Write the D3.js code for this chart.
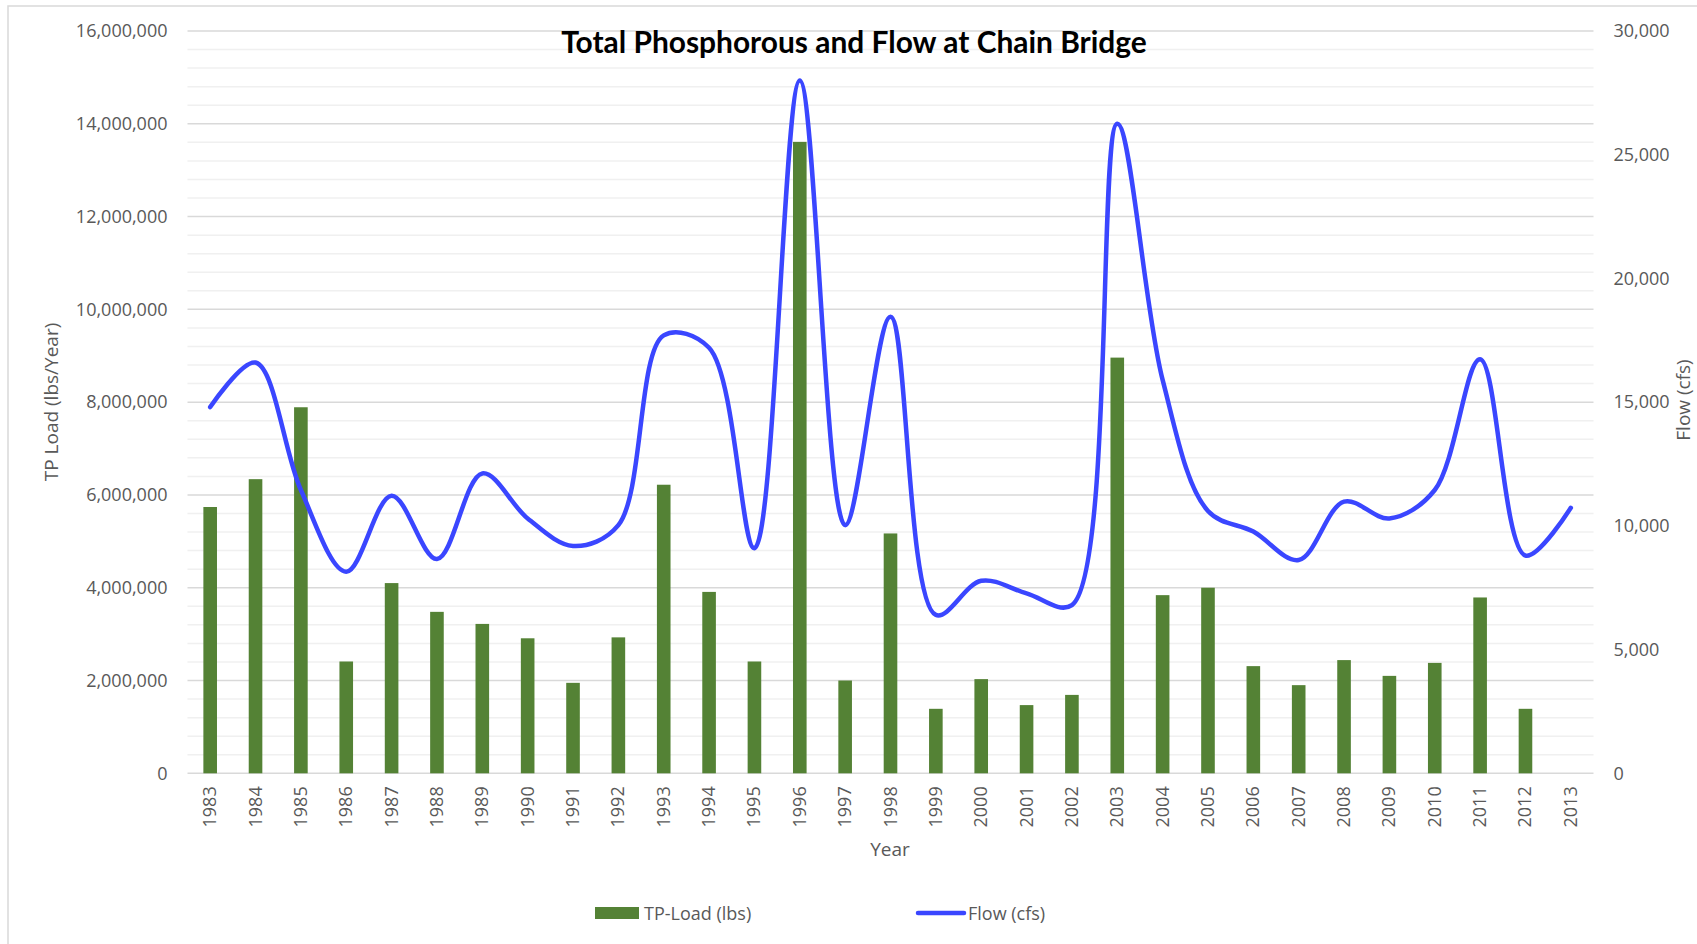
<!DOCTYPE html>
<html>
<head>
<meta charset="utf-8">
<script src="https://cdn.jsdelivr.net/npm/d3@7"></script>
<style>
  html, body { margin: 0; padding: 0; background: #fff; }
  svg { display: block; }
  text { font-family: "Open Sans", "Noto Sans", sans-serif; fill: #595959; }
</style>
</head>
<body>
<div id="chart"></div>
<script>
const years = ['1983','1984','1985','1986','1987','1988','1989','1990','1991','1992',
  '1993','1994','1995','1996','1997','1998','1999','2000','2001','2002',
  '2003','2004','2005','2006','2007','2008','2009','2010','2011','2012','2013'];

// TP load, lbs/year (2013 has no bar)
const tpLoad = [5740000, 6340000, 7890000, 2410000, 4100000, 3480000, 3220000, 2910000, 1950000, 2930000,
  6220000, 3910000, 2410000, 13610000, 2000000, 5170000, 1390000, 2030000, 1470000, 1690000,
  8960000, 3840000, 4000000, 2310000, 1900000, 2440000, 2100000, 2380000, 3790000, 1390000, null];

// flow, cfs
const flow = [14800, 16600, 11450, 8150, 11220, 8660, 12120, 10300, 9190, 10030,
  17700, 17200, 9100, 28000, 10030, 18450, 6400, 7780, 7270, 6800,
  26250, 15900, 10600, 9770, 8620, 10980, 10300, 11450, 16730, 8800, 10730];

const leftTicks = d3.range(0, 16000001, 2000000);
const leftMinor = d3.range(0, 16000001, 400000);
const rightTicks = d3.range(0, 30001, 5000);

const W = 1697, H = 944;
const margin = { left: 187.5, right: W - 1593.5, top: 31, bottom: H - 773.3 };
const plotW = W - margin.left - margin.right;
const plotH = H - margin.top - margin.bottom;

const svg = d3.select('#chart').append('svg').attr('width', W).attr('height', H);

// chart area border
svg.append('rect')
  .attr('x', 8).attr('y', 6).attr('width', 1720).attr('height', 1000)
  .attr('fill', '#fff').attr('stroke', '#d9d9d9').attr('stroke-width', 1.5);

const g = svg.append('g').attr('transform', `translate(${margin.left},${margin.top})`);

const x = d3.scaleBand().domain(years).range([0, plotW]).paddingInner(0.7).paddingOuter(0.35);
const yL = d3.scaleLinear().domain([0, 16000000]).range([plotH, 0]);
const yR = d3.scaleLinear().domain([0, 30000]).range([plotH, 0]);

// gridlines
g.append('g').selectAll('line').data(leftMinor.filter(v => v % 2000000 !== 0)).join('line')
  .attr('x1', 0).attr('x2', plotW)
  .attr('y1', d => yL(d)).attr('y2', d => yL(d))
  .attr('stroke', '#f0f0f0').attr('stroke-width', 1.5);
g.append('g').selectAll('line').data(leftTicks).join('line')
  .attr('x1', 0).attr('x2', plotW)
  .attr('y1', d => yL(d)).attr('y2', d => yL(d))
  .attr('stroke', '#d9d9d9').attr('stroke-width', 1.5);

// left axis
const fmt = d3.format(',');
const leftAxis = g.append('g').call(d3.axisLeft(yL).tickValues(leftTicks).tickFormat(fmt).tickSize(0).tickPadding(20));
leftAxis.select('.domain').remove();
leftAxis.selectAll('text').attr('font-size', 18).attr('fill', '#595959')
  .style('font-family', '"Open Sans", sans-serif');

// right axis
const rightAxis = g.append('g').attr('transform', `translate(${plotW},0)`)
  .call(d3.axisRight(yR).tickValues(rightTicks).tickFormat(fmt).tickSize(0).tickPadding(20));
rightAxis.select('.domain').remove();
rightAxis.selectAll('text').attr('font-size', 18).attr('fill', '#595959')
  .style('font-family', '"Open Sans", sans-serif');

// x axis
const bottomAxis = g.append('g').attr('transform', `translate(0,${plotH})`)
  .call(d3.axisBottom(x).tickSize(0).tickPadding(0));
bottomAxis.select('.domain').remove();
bottomAxis.selectAll('text')
  .attr('font-size', 18).attr('fill', '#595959')
  .style('font-family', '"Open Sans", sans-serif')
  .attr('text-anchor', 'end')
  .attr('dy', null)
  .attr('transform', 'translate(6,13) rotate(-90)');

// bars
g.append('g').selectAll('rect').data(years.map((y, i) => ({ y, v: tpLoad[i] })).filter(d => d.v != null)).join('rect')
  .attr('x', d => x(d.y))
  .attr('width', x.bandwidth())
  .attr('y', d => yL(d.v))
  .attr('height', d => plotH - yL(d.v))
  .attr('fill', '#548235');

// flow line (centripetal spline keeps the dips next to big jumps shallow, like Excel's smoothing)
const line = d3.line()
  .x((d, i) => x(years[i]) + x.bandwidth() / 2)
  .y(d => yR(d))
  .curve(d3.curveCatmullRom.alpha(0.5));
g.append('path').datum(flow)
  .attr('d', line)
  .attr('fill', 'none')
  .attr('stroke', '#3a46ff')
  .attr('stroke-width', 4.5)
  .attr('stroke-linecap', 'round')
  .attr('stroke-linejoin', 'round');

// axis titles
svg.append('text').attr('x', 890).attr('y', 856).attr('text-anchor', 'middle')
  .attr('font-size', 19).text('Year');
svg.append('text').attr('transform', 'translate(58,402) rotate(-90)').attr('text-anchor', 'middle')
  .attr('font-size', 19).text('TP Load (lbs/Year)');
svg.append('text').attr('transform', 'translate(1690,400) rotate(-90)').attr('text-anchor', 'middle')
  .attr('font-size', 19).text('Flow (cfs)');

// title, sized to the reference width
const title = svg.append('text').attr('x', 854).attr('y', 53).attr('text-anchor', 'middle')
  .attr('font-size', 26).attr('font-weight', 'bold')
  .style('font-family', 'Lato, "Open Sans", sans-serif')
  .style('fill', '#000')
  .text('Total Phosphorous and Flow at Chain Bridge');
const tw = title.node().getComputedTextLength();
title.attr('font-size', 26 * 586 / tw);

// legend
const legend = svg.append('g');
legend.append('rect').attr('x', 595).attr('y', 907).attr('width', 44).attr('height', 12).attr('fill', '#548235');
legend.append('text').attr('x', 644).attr('y', 920).attr('font-size', 18).text('TP-Load (lbs)');
legend.append('line').attr('x1', 918).attr('x2', 964).attr('y1', 913).attr('y2', 913)
  .attr('stroke', '#3a46ff').attr('stroke-width', 4.5).attr('stroke-linecap', 'round');
legend.append('text').attr('x', 968).attr('y', 920).attr('font-size', 18).text('Flow (cfs)');
</script>
</body>
</html>
